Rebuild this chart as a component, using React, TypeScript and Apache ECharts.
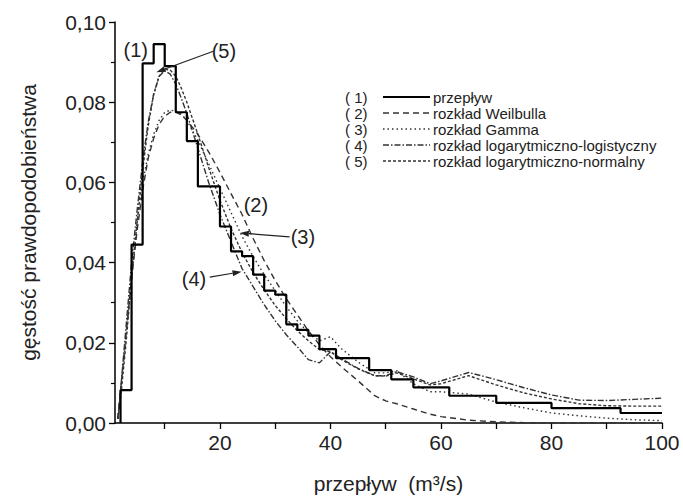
import React, { useEffect, useRef } from "react";
import * as echarts from "echarts";

// Histogram of flow (step line): bin edges and density per bin
const histEdges = [2, 4, 6, 8, 10, 12, 14, 16, 20, 22, 24, 26, 28, 30, 32, 34, 36, 38, 41, 47, 51, 55, 61.5, 70, 80, 92.5, 100];
const histValues = [0.0082, 0.0445, 0.0897, 0.0945, 0.089, 0.0775, 0.0703, 0.059, 0.049, 0.0428, 0.0416, 0.037, 0.033, 0.032, 0.0246, 0.0232, 0.0218, 0.0184, 0.0162, 0.0132, 0.0109, 0.0089, 0.0068, 0.005, 0.0037, 0.0025];

// Fitted distributions
const curveX = [1.5, 2, 3, 4, 5, 6, 7, 8, 9, 10, 11, 12, 13, 14, 16, 18, 20, 22, 24, 26, 28, 30, 32, 34, 36, 38, 40, 42, 45, 48, 50, 52, 55, 58, 60, 65, 70, 75, 80, 85, 90, 95, 100];
const weibull = [0.001, 0.008, 0.022, 0.036, 0.048, 0.058, 0.066, 0.071, 0.0745, 0.0765, 0.0775, 0.0776, 0.0768, 0.0755, 0.072, 0.0675, 0.0625, 0.0572, 0.052, 0.046, 0.0405, 0.0355, 0.031, 0.027, 0.023, 0.0195, 0.0165, 0.014, 0.0105, 0.0068, 0.0055, 0.0048, 0.0035, 0.0022, 0.0016, 0.0007, 0.0003, 0.0001, 0, 0, 0, 0, 0];
const gamma = [0.001, 0.007, 0.022, 0.037, 0.05, 0.06, 0.067, 0.072, 0.0755, 0.0775, 0.078, 0.0778, 0.077, 0.0755, 0.0705, 0.0645, 0.0585, 0.0525, 0.0465, 0.0415, 0.037, 0.033, 0.029, 0.0255, 0.0225, 0.0205, 0.0215, 0.0185, 0.0152, 0.0125, 0.0125, 0.013, 0.0098, 0.0078, 0.0078, 0.0072, 0.0052, 0.0038, 0.0025, 0.0018, 0.0012, 0.0008, 0.0006];
const logLogistic = [0.001, 0.008, 0.024, 0.04, 0.053, 0.065, 0.075, 0.082, 0.0865, 0.0878, 0.087, 0.0845, 0.081, 0.0772, 0.0685, 0.0598, 0.052, 0.0452, 0.0385, 0.034, 0.0295, 0.0255, 0.022, 0.019, 0.0158, 0.015, 0.0178, 0.016, 0.0136, 0.0118, 0.0118, 0.0128, 0.0115, 0.0098, 0.0105, 0.0126, 0.0108, 0.0088, 0.007, 0.0057, 0.0056, 0.0059, 0.0062];
const logNormal = [0.001, 0.006, 0.02, 0.036, 0.05, 0.063, 0.074, 0.082, 0.0865, 0.0882, 0.088, 0.0865, 0.0835, 0.08, 0.072, 0.0635, 0.0555, 0.0485, 0.0425, 0.0375, 0.0332, 0.0293, 0.026, 0.023, 0.0205, 0.0183, 0.0178, 0.0158, 0.0135, 0.0118, 0.0117, 0.0125, 0.011, 0.0095, 0.0098, 0.0118, 0.0095, 0.0075, 0.006, 0.0048, 0.0043, 0.0042, 0.0042];

// Axis ticks
const xTickValues = [10, 20, 30, 40, 50, 60, 70, 80, 90, 100];
const xLabelValues = [20, 40, 60, 80, 100];

// Legend
const legendNumbers = ["( 1)", "( 2)", "( 3)", "( 4)", "( 5)"];
const legendNames = ["przepływ", "rozkład Weilbulla", "rozkład Gamma", "rozkład logarytmiczno-logistyczny", "rozkład logarytmiczno-normalny"];

// Annotations (data coordinates)
const annoTexts = ["(1)", "(5)", "(2)", "(3)", "(4)"];
const annoX = [4.75, 20.7, 26.5, 35.0, 15.3];
const annoY = [0.093, 0.0927, 0.0543, 0.0463, 0.0358];
const arrowFrom = [[18.8, 0.0927], [32.6, 0.0464], [18.15, 0.0364]];
const arrowTo = [[8.5, 0.0875], [23.6, 0.0474], [23.9, 0.0377]];

const FONT = "'Liberation Sans', Arial, sans-serif";
const INK = "#222";

const dashStyles: any[] = [
  null,
  [6, 4],
  [1.5, 3],
  [6, 2, 1.5, 2],
  [3, 2],
];

export default function App() {
  const ref = useRef<HTMLDivElement>(null);
  useEffect(() => {
    if (!ref.current) return;
    const chart = echarts.init(ref.current, undefined, { renderer: "svg" });

    const histData: number[][] = [[histEdges[0], 0]];
    for (let i = 0; i < histValues.length; i++) {
      histData.push([histEdges[i], histValues[i]]);
      histData.push([histEdges[i + 1], histValues[i]]);
    }
    const mk = (arr: number[]) => curveX.map((x, i) => [x, arr[i]]);

    const curveSeries = [weibull, gamma, logLogistic, logNormal].map((arr, i) => ({
      type: "line",
      name: legendNames[i + 1],
      data: mk(arr),
      showSymbol: false,
      symbol: "none",
      smooth: false,
      lineStyle: { color: "#333", width: 1.4, type: dashStyles[i + 1] },
      z: 2,
    }));

    chart.setOption({
      animation: false,
      backgroundColor: "#fff",
      grid: { left: 115, right: 21, top: 22, bottom: 76, containLabel: false },
      xAxis: {
        type: "value",
        min: 1,
        max: 100,
        name: "przepływ  (m³/s)",
        nameLocation: "middle",
        nameGap: 50,
        nameTextStyle: { fontSize: 21, color: INK, fontFamily: FONT },
        axisLine: { lineStyle: { color: "#000", width: 1.5 } },
        axisTick: { show: true, customValues: xTickValues, length: 6, lineStyle: { color: "#000", width: 1.3 } },
        axisLabel: { customValues: xLabelValues, fontSize: 21, color: INK, fontFamily: FONT, margin: 9 },
        splitLine: { show: false },
      },
      yAxis: {
        type: "value",
        min: 0,
        max: 0.1,
        interval: 0.02,
        name: "gęstość prawdopodobieństwa",
        nameLocation: "middle",
        nameGap: 76,
        nameTextStyle: { fontSize: 21, color: INK, fontFamily: FONT },
        axisLine: { show: true, lineStyle: { color: "#000", width: 1.5 } },
        axisTick: { show: true, length: 6, lineStyle: { color: "#000", width: 1.3 } },
        minorTick: { show: true, splitNumber: 2, length: 4, lineStyle: { color: "#000", width: 1.2 } },
        axisLabel: {
          fontSize: 21,
          color: INK,
          fontFamily: FONT,
          margin: 9,
          formatter: (v: number) => v.toFixed(2).replace(".", ","),
        },
        splitLine: { show: false },
      },
      series: [
        {
          type: "line",
          name: legendNames[0],
          data: histData,
          showSymbol: false,
          symbol: "none",
          lineStyle: { color: "#000", width: 2.2 },
          z: 3,
        },
        ...curveSeries,
      ],
    });

    // Legend and annotations
    const g: any[] = [];
    const lx0 = 345, lineX0 = 383, lineX1 = 430, textX = 433, ly0 = 97, dy = 16;
    for (let i = 0; i < legendNames.length; i++) {
      const y = ly0 + i * dy;
      g.push({ type: "text", x: lx0, y, style: { text: legendNumbers[i], fontSize: 15, lineHeight: 15, fill: INK, fontFamily: FONT, verticalAlign: "middle" } });
      g.push({
        type: "line",
        shape: { x1: lineX0, y1: y, x2: lineX1, y2: y },
        style: { stroke: i === 0 ? "#000" : "#333", lineWidth: i === 0 ? 2.2 : 1.4, lineDash: dashStyles[i] || undefined },
      });
      g.push({ type: "text", x: textX, y, style: { text: legendNames[i], fontSize: 15, lineHeight: 15, fill: INK, fontFamily: FONT, verticalAlign: "middle" } });
    }
    for (let i = 0; i < annoTexts.length; i++) {
      const p = chart.convertToPixel({ gridIndex: 0 }, [annoX[i], annoY[i]]) as number[];
      g.push({ type: "text", x: p[0], y: p[1], style: { text: annoTexts[i], fontSize: 20, fill: INK, fontFamily: FONT, align: "center", verticalAlign: "middle" }, z: 10 });
    }
    for (let i = 0; i < arrowFrom.length; i++) {
      const a = chart.convertToPixel({ gridIndex: 0 }, arrowFrom[i]) as number[];
      const b = chart.convertToPixel({ gridIndex: 0 }, arrowTo[i]) as number[];
      const dx = b[0] - a[0], dyy = b[1] - a[1];
      const len = Math.sqrt(dx * dx + dyy * dyy);
      const ux = dx / len, uy = dyy / len;
      const hl = 9, hw = 3;
      const bx = b[0] - ux * hl, by = b[1] - uy * hl;
      g.push({ type: "line", shape: { x1: a[0], y1: a[1], x2: bx, y2: by }, style: { stroke: "#222", lineWidth: 1.2 }, z: 10 });
      g.push({
        type: "polygon",
        shape: { points: [[b[0], b[1]], [bx - uy * hw, by + ux * hw], [bx + uy * hw, by - ux * hw]] },
        style: { fill: "#222" },
        z: 10,
      });
    }
    chart.setOption({ graphic: g });

    return () => chart.dispose();
  }, []);
  return <div ref={ref} style={{ position: "absolute", left: 0, top: 0, width: 683, height: 499 }} />;
}
